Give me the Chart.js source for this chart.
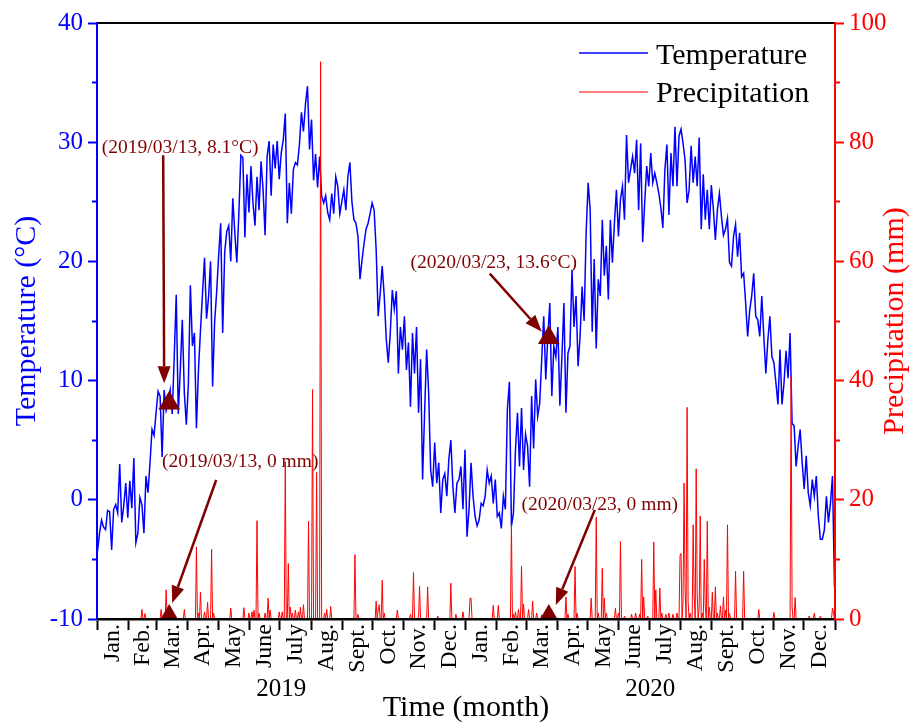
<!DOCTYPE html>
<html>
<head>
<meta charset="utf-8">
<script src="https://cdn.jsdelivr.net/npm/chart.js@4.4.0/dist/chart.umd.min.js"></script>
<style>
  html, body { margin: 0; padding: 0; background: #fff; }
  #wrap { width: 916px; height: 726px; }
</style>
</head>
<body>
<div id="wrap"><canvas id="chart"></canvas></div>
<script>
//================ data ================
var monthLabels = ['Jan.', 'Feb.', 'Mar.', 'Apr.', 'May', 'June', 'July', 'Aug.', 'Sept.', 'Oct.', 'Nov.', 'Dec.'];
var monthDays2019 = [31, 28, 31, 30, 31, 30, 31, 31, 30, 31, 30, 31];
var monthDays2020 = [31, 29, 31, 30, 31, 30, 31, 31, 30, 31, 30, 31];
var yearLabels = ['2019', '2020'];

// daily temperature (°C), one reading every 2 days starting 2019/01/01
var tempStep = 2;
var temp2019 = [
  -4.3, -2.8, -1.7, -2.3, -2.5, -0.9, -1.0, -4.2, -0.8, -0.4, -1.1, 3.0, -1.9, -0.5, 1.4, -1.5,
  1.6, -0.7, 3.5, -3.6, -2.8, 0.2, -0.4, -2.8, 2.0, 0.6, 3.1, 5.9, 5.4, 7.3,
  9.1, 8.7, 3.6, 9.2, 7.5, 8.1, 9.2, 7.2, 12.0, 17.2, 7.2, 10.9, 15.1, 9.0, 6.3,
  9.7, 18.0, 12.9, 14.0, 6.0, 10.9, 14.2, 17.3, 20.3, 15.2, 17.0, 20.0, 9.5, 14.9, 17.4,
  20.5, 23.2, 14.0, 20.8, 22.5, 23.0, 20.0, 25.3, 22.4, 19.9, 24.0, 28.9, 28.7, 22.0, 27.3, 24.1,
  28.0, 24.9, 23.0, 27.1, 24.3, 28.4, 26.0, 22.2, 28.8, 30.1, 25.5, 29.8, 27.8, 30.1, 26.9,
  29.1, 30.2, 32.4, 23.2, 26.6, 24.0, 27.7, 28.3, 28.1, 29.8, 32.5, 30.9, 33.2, 34.7, 29.4, 31.9,
  26.8, 29.0, 26.2, 28.8, 25.5, 24.9, 25.5, 24.1, 23.5, 25.7, 24.0, 27.1, 26.3, 24.0, 25.0,
  26.0, 24.3, 27.1, 28.3, 25.0, 23.5, 23.2, 22.1, 18.5, 20.1, 21.5, 22.7, 23.2, 24.0, 24.9,
  24.3, 21.0, 15.4, 17.3, 19.6, 17.1, 13.5, 11.5, 14.0, 17.6, 16.0, 17.5, 10.6, 14.5, 12.6,
  15.4, 10.9, 13.2, 7.8, 14.0, 10.6, 14.5, 7.3, 11.8, 1.7, 7.3, 12.6, 9.0, 2.5, 1.1,
  4.8, 1.4, 3.1, -1.1, 1.7, 2.2, 0.3, 3.4, 5.0, 1.1, -1.1, 1.4, 1.7, 2.8, -0.8, 4.2
];
var temp2020 = [
  -3.1, -0.8, 3.1, 0.3, -1.4, -2.2, -1.7, -0.3, -0.5, 0.3, 2.5, 1.4, 2.0, -0.3, 1.7,
  -1.4, -1.1, -2.4, 0.3, -0.8, 7.6, 9.9, -2.2, -1.1, 4.2, 7.3, 2.8, 7.7, 2.5, 5.5,
  4.5, 1.1, 8.7, 4.3, 10.1, 7.0, 8.1, 11.8, 15.4, 10.1, 13.6, 16.5, 8.7, 12.9, 12.0,
  14.5, 7.9, 12.0, 16.5, 7.3, 12.3, 12.9, 19.3, 14.5, 17.1, 11.2, 13.7, 17.9, 15.0, 22.4,
  26.6, 24.3, 14.1, 20.2, 12.7, 18.5, 17.1, 23.5, 18.8, 21.3, 16.8, 23.5, 19.9, 23.2, 26.0, 22.1,
  25.2, 26.3, 23.5, 30.6, 26.6, 27.7, 28.8, 27.4, 30.2, 24.3, 29.9, 21.6, 24.9, 28.0, 26.3,
  29.1, 26.6, 27.4, 26.6, 25.7, 24.5, 22.8, 27.7, 29.8, 23.9, 29.1, 26.3, 31.3, 26.3, 30.5,
  31.1, 29.9, 28.5, 24.9, 26.0, 29.7, 26.6, 28.8, 26.3, 30.4, 22.7, 27.3, 23.5, 26.0, 22.7, 26.4,
  24.4, 21.8, 24.3, 25.7, 23.8, 22.2, 22.7, 23.6, 19.9, 19.6, 22.1, 23.1, 20.4, 22.4, 18.7,
  19.0, 16.5, 13.7, 15.9, 17.1, 19.0, 15.4, 15.1, 13.7, 17.1, 13.7, 10.6, 13.4, 15.4, 12.0,
  11.5, 9.8, 8.0, 12.6, 8.0, 9.8, 12.5, 10.2, 14.0, 6.4, 6.2, 2.8, 4.5, 5.9, 3.1,
  0.9, 3.7, 0.6, -0.5, 1.7, 0.3, 2.0, -1.4, -3.3, -3.3, -2.5, 0.3, -1.9, -0.3, 2.0, -7.3
];

// precipitation (mm): rainy days (day number from 2019/01/01), every other day is 0 mm
var rainDays = [
  44, 47, 63, 68, 70, 86, 98, 100, 102, 106, 109, 113, 115, 132, 145, 150, 153, 155, 158, 160,
  166, 169, 171, 180, 183, 186, 189, 191, 193, 196, 199, 201, 204, 209, 213, 217, 221, 225, 227, 231,
  255, 258, 276, 278, 279, 282, 284, 297, 310, 313, 319, 327, 337, 350, 355, 362,
  369, 370, 392, 397, 410, 412, 414, 417, 420, 422, 427, 431, 435, 440, 464, 466, 473, 475, 489, 494,
  496, 500, 502, 504, 513, 516, 518, 522, 529, 533, 537, 539, 541, 545, 551, 553, 557, 559, 563, 566,
  570, 574, 577, 578, 580, 581, 582, 584, 585, 587, 590, 591, 593, 594, 596, 597, 599, 601, 602, 604,
  606, 609, 612, 614, 617, 620, 622, 624, 626, 632, 640, 655, 670, 687, 688, 691, 705, 710, 716, 728, 729
];
var rainValues = [
  1.6, 0.9, 1.6, 4.9, 0.8, 1.6, 12.1, 1.0, 4.5, 1.2, 2.8, 11.7, 1.0, 1.8, 1.9, 1.0, 1.2, 1.5, 16.5, 1.0,
  1.0, 3.5, 1.5, 1.2, 1.2, 26.4, 9.3, 2.0, 1.0, 1.5, 1.2, 2.0, 2.4, 16.4, 38.5, 24.6, 93.5, 1.0, 1.6, 2.1,
  10.8, 0.8, 3.0, 1.5, 2.4, 6.5, 1.0, 1.5, 0.8, 7.8, 5.5, 5.4, 0.5, 6.0, 0.8, 1.2,
  3.5, 3.5, 2.3, 2.3, 15.8, 0.8, 1.2, 1.6, 8.9, 2.5, 1.6, 3.0, 1.0, 0.7, 3.7, 0.8, 8.8, 1.0, 3.5, 17.1,
  1.0, 8.5, 3.5, 1.0, 1.8, 1.0, 13.0, 0.5, 0.8, 1.0, 0.8, 10.0, 3.7, 0.5, 12.9, 4.9, 5.2, 1.0, 0.8, 1.0,
  0.8, 1.0, 10.6, 11.0, 3.0, 22.8, 5.0, 35.5, 3.0, 1.0, 15.8, 4.0, 25.2, 4.0, 2.0, 17.3, 1.0, 10.0, 2.0, 16.4,
  2.0, 4.5, 5.4, 1.0, 2.2, 3.7, 1.5, 15.8, 1.0, 8.0, 8.0, 1.6, 1.1, 40.7, 2.0, 3.6, 0.5, 1.0, 0.5, 1.8, 1.0
];

// marked dates
var markLabels = ['2019/03/13', '2020/03/23'];
var markDays = [71, 447];
var markTemps = [8.1, 13.6];
var markRain = [0, 0];

// axis ticks
var tempMajor = [-10, 0, 10, 20, 30, 40];
var tempMinor = [-5, 5, 15, 25, 35];
var rainMajor = [0, 20, 40, 60, 80, 100];
var rainMinor = [10, 30, 50, 70, 90];

//================ build series / ticks ================
var serif = "'Liberation Serif', 'Times New Roman', serif";
var maroon = '#800000';

var allMonthDays = monthDays2019.concat(monthDays2020);
var boundaryTicks = [0];
allMonthDays.forEach(function(n, i) { boundaryTicks.push(boundaryTicks[i] + n); });
var totalDays = boundaryTicks[boundaryTicks.length - 1];
var midTicks = [];
for (var m = 0; m < allMonthDays.length; m++) {
    midTicks.push((boundaryTicks[m] + boundaryTicks[m + 1]) / 2);
}
var monthTicks = boundaryTicks.concat(midTicks).sort(function(a, b) { return a - b; });
var yearTicks = [boundaryTicks[12] / 2, (boundaryTicks[12] + totalDays) / 2];

var tempPoints = temp2019.concat(temp2020).map(function(v, i) {
    return { x: i * tempStep + 0.5, y: v };
});

var rainDaily = [];
for (var d = 0; d < totalDays; d++) rainDaily.push(0);
rainDays.forEach(function(day, i) { rainDaily[day] = rainValues[i]; });
var rainPoints = rainDaily.map(function(v, i) { return { x: i + 0.5, y: v }; });

function setTicks(list) {
    return function(s) { s.ticks = list.map(function(v) { return { value: v }; }); };
}

//================ plugins ================
function drawArrow(ctx, x1, y1, x2, y2) {
    var a = Math.atan2(y2 - y1, x2 - x1), len = 17, half = 6.5;
    var bx = x2 - len * Math.cos(a), by = y2 - len * Math.sin(a);
    ctx.beginPath();
    ctx.moveTo(x1, y1);
    ctx.lineTo(bx, by);
    ctx.stroke();
    ctx.beginPath();
    ctx.moveTo(x2, y2);
    ctx.lineTo(bx + half * Math.sin(a), by - half * Math.cos(a));
    ctx.lineTo(bx - half * Math.sin(a), by + half * Math.cos(a));
    ctx.closePath();
    ctx.fill();
}

// text / arrow offsets from each marker (pixels)
var notes = [
    { axis: 'y', i: 0, unit: '°C', tx: 11, ty: -255, ax: -6, ay: -248, bx: -5, by: -20 },
    { axis: 'y', i: 1, unit: '°C', tx: -55, ty: -75, ax: -59, ay: -64, bx: -7, by: -6 },
    { axis: 'yRain', i: 0, unit: ' mm', tx: 71, ty: -157, ax: 47, ay: -139, bx: 3, by: -16 },
    { axis: 'yRain', i: 1, unit: ' mm', tx: 51, ty: -114, ax: 46, ay: -109, bx: 7, by: -14 }
];

var extrasPlugin = {
    id: 'extras',
    afterDraw: function(chart) {
        var ctx = chart.ctx, ca = chart.chartArea;
        var xs = chart.scales.x;

        // annotations
        ctx.save();
        ctx.strokeStyle = maroon;
        ctx.fillStyle = maroon;
        ctx.lineWidth = 2.5;
        ctx.font = '19.5px ' + serif;
        ctx.textAlign = 'center';
        ctx.textBaseline = 'middle';
        notes.forEach(function(n) {
            var val = n.axis === 'y' ? markTemps[n.i] : markRain[n.i];
            var px = xs.getPixelForValue(markDays[n.i] + 0.5);
            var py = chart.scales[n.axis].getPixelForValue(val);
            ctx.fillText('(' + markLabels[n.i] + ', ' + val + n.unit + ')', px + n.tx, py + n.ty);
            drawArrow(ctx, px + n.ax, py + n.ay, px + n.bx, py + n.by);
        });
        ctx.restore();

        // legend inside plot
        ctx.save();
        ctx.font = '30px ' + serif;
        ctx.textAlign = 'left';
        ctx.textBaseline = 'alphabetic';
        var rows = [
            { ds: chart.data.datasets[3], ly: 30, ty: 41 },
            { ds: chart.data.datasets[2], ly: 69, ty: 79 }
        ];
        rows.forEach(function(r) {
            ctx.strokeStyle = r.ds.borderColor;
            ctx.lineWidth = r.ds.borderWidth;
            ctx.beginPath();
            ctx.moveTo(ca.right - 256, ca.top + r.ly);
            ctx.lineTo(ca.right - 187, ca.top + r.ly);
            ctx.stroke();
            ctx.fillStyle = '#000';
            ctx.fillText(r.ds.label, ca.right - 179, ca.top + r.ty);
        });
        ctx.restore();

        // right axis title, reading bottom to top
        ctx.save();
        ctx.translate(ca.right + 60, (ca.top + ca.bottom) / 2);
        ctx.rotate(-Math.PI / 2);
        ctx.font = '30px ' + serif;
        ctx.fillStyle = '#ff0000';
        ctx.textAlign = 'center';
        ctx.textBaseline = 'middle';
        ctx.fillText('Precipitation (mm)', 0, 0);
        ctx.restore();
    }
};

//================ chart ================
var ctx = document.getElementById('chart').getContext('2d');
var config = {
    type: 'line',
    data: {
        datasets: [{
            label: 'markT',
            data: markDays.map(function(d, i) { return { x: d + 0.5, y: markTemps[i] }; }),
            yAxisID: 'y',
            showLine: false,
            pointStyle: 'triangle',
            pointRadius: 12.5,
            pointBackgroundColor: maroon,
            pointBorderWidth: 0
        }, {
            label: 'markP',
            data: markDays.map(function(d, i) { return { x: d + 0.5, y: markRain[i] }; }),
            yAxisID: 'yRain',
            showLine: false,
            pointStyle: 'triangle',
            pointRadius: 15,
            pointBackgroundColor: maroon,
            pointBorderWidth: 0,
            clip: 0
        }, {
            label: 'Precipitation',
            data: rainPoints,
            yAxisID: 'yRain',
            borderColor: '#ff0000',
            borderWidth: 1,
            pointRadius: 0,
            tension: 0
        }, {
            label: 'Temperature',
            data: tempPoints,
            yAxisID: 'y',
            borderColor: '#0000ff',
            borderWidth: 1.5,
            pointRadius: 0,
            tension: 0
        }]
    },
    options: {
        responsive: true,
        maintainAspectRatio: false,
        animation: false,
        events: [],
        layout: { padding: 0 },
        plugins: {
            legend: { display: false },
            tooltip: { enabled: false }
        },
        scales: {
            x: {
                type: 'linear',
                position: 'bottom',
                weight: 0,
                min: 0,
                max: totalDays,
                afterBuildTicks: setTicks(monthTicks),
                afterFit: function(s) { s.height = 55; },
                ticks: {
                    autoSkip: false,
                    minRotation: 90,
                    maxRotation: 90,
                    padding: -6,
                    color: '#000',
                    font: { family: serif, size: 24 },
                    z: 1,
                    callback: function(v) {
                        var k = midTicks.indexOf(v);
                        return k >= 0 ? monthLabels[k % 12] : '';
                    }
                },
                grid: {
                    drawOnChartArea: false,
                    tickLength: 11,
                    tickWidth: 2,
                    z: 1,
                    tickColor: function(c) {
                        return c.tick && boundaryTicks.indexOf(c.tick.value) >= 0 ? '#000' : 'rgba(0,0,0,0)';
                    }
                },
                border: { color: '#000', width: 2.5, z: 1 }
            },
            xYear: {
                type: 'linear',
                position: 'bottom',
                weight: 1,
                min: 0,
                max: totalDays,
                afterBuildTicks: setTicks(yearTicks),
                afterFit: function(s) { s.height = 52; },
                ticks: {
                    autoSkip: false,
                    minRotation: 0,
                    maxRotation: 0,
                    padding: 0,
                    color: '#000',
                    font: { family: serif, size: 25 },
                    callback: function(v) {
                        var k = yearTicks.indexOf(v);
                        return k >= 0 ? yearLabels[k] : '';
                    }
                },
                grid: { display: false, drawTicks: false },
                border: { display: false },
                title: {
                    display: true,
                    text: 'Time (month)',
                    color: '#000',
                    font: { family: serif, size: 30 },
                    padding: { top: 0, bottom: 0 }
                }
            },
            xTop: {
                type: 'linear',
                position: 'top',
                min: 0,
                max: totalDays,
                afterFit: function(s) { s.height = 23; },
                ticks: { display: false },
                grid: { drawOnChartArea: false, drawTicks: false },
                border: { color: '#000', width: 2, z: 1 }
            },
            y: {
                type: 'linear',
                position: 'left',
                min: -10,
                max: 40,
                afterBuildTicks: setTicks(tempMajor),
                afterFit: function(s) { s.width = 97; },
                ticks: {
                    autoSkip: false,
                    padding: 5,
                    color: '#0000ff',
                    font: { family: serif, size: 25 }
                },
                grid: { drawOnChartArea: false, tickLength: 9, tickWidth: 2, tickColor: '#0000ff', z: 1 },
                border: { color: '#0000ff', width: 2, z: 1 },
                title: {
                    display: true,
                    text: 'Temperature (°C)',
                    color: '#0000ff',
                    font: { family: serif, size: 30 },
                    padding: { top: 9, bottom: 0 }
                }
            },
            yMinor: {
                axis: 'y',
                type: 'linear',
                position: { x: 0 },
                min: -10,
                max: 40,
                afterBuildTicks: setTicks(tempMinor),
                ticks: { display: false },
                grid: { drawOnChartArea: false, tickLength: 5, tickWidth: 2, tickColor: '#0000ff', z: 1 },
                border: { display: false }
            },
            yRain: {
                type: 'linear',
                position: 'right',
                min: 0,
                max: 100,
                afterBuildTicks: setTicks(rainMajor),
                afterFit: function(s) { s.width = 81; },
                ticks: {
                    autoSkip: false,
                    padding: 5,
                    color: '#ff0000',
                    font: { family: serif, size: 25 }
                },
                grid: { drawOnChartArea: false, tickLength: 9, tickWidth: 2, tickColor: '#ff0000', z: 1 },
                border: { color: '#ff0000', width: 2, z: 1 }
            },
            yRainMinor: {
                axis: 'y',
                type: 'linear',
                position: { x: totalDays },
                min: 0,
                max: 100,
                afterBuildTicks: setTicks(rainMinor),
                ticks: { display: false },
                grid: { drawOnChartArea: false, tickLength: -5, tickWidth: 2, tickColor: '#ff0000', z: 1 },
                border: { display: false }
            }
        }
    },
    plugins: [extrasPlugin]
};

var climateChart = new Chart(ctx, config);
</script>
</body>
</html>
